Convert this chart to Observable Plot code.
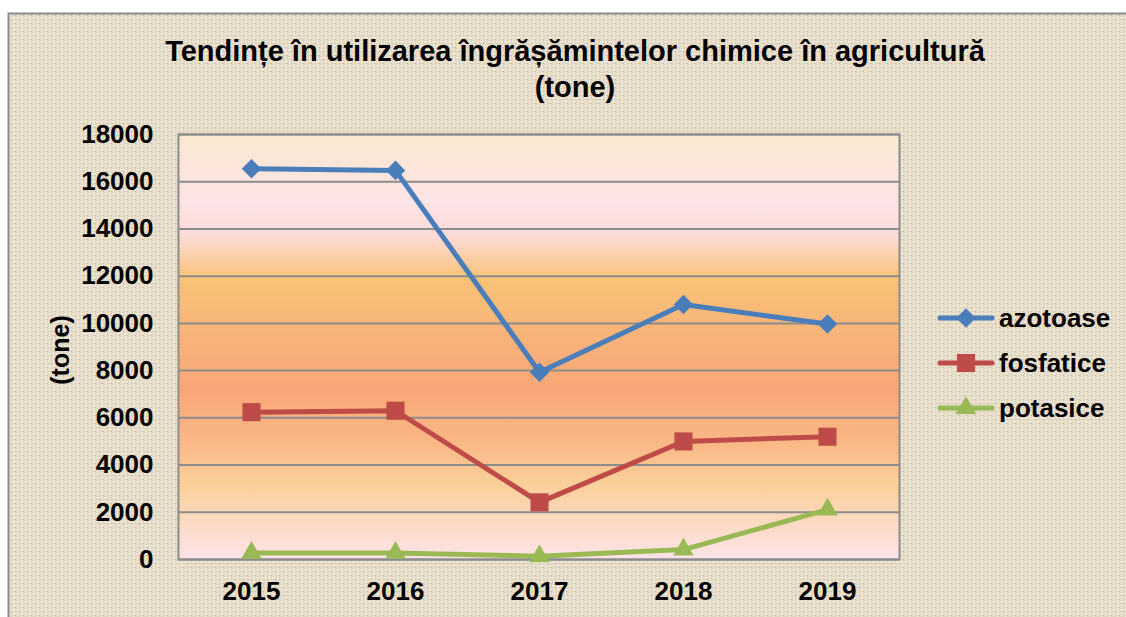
<!DOCTYPE html>
<html>
<head>
<meta charset="utf-8">
<script src="https://cdn.jsdelivr.net/npm/d3@7"></script>
<script src="https://cdn.jsdelivr.net/npm/@observablehq/plot@0.6"></script>
<style>
  html, body { margin: 0; padding: 0; background: #ffffff; }
  #chart { width: 1126px; height: 617px; }
</style>
</head>
<body>
<div id="chart"></div>
<script>
// ---- data ----
const years = ["2015", "2016", "2017", "2018", "2019"];
const azotoase = [16550, 16480, 7930, 10800, 9970];
const fosfatice = [6240, 6300, 2420, 5000, 5200];
const potasice = [280, 280, 140, 420, 2110];
const seriesNames = ["azotoase", "fosfatice", "potasice"];
const yTicks = [0, 2000, 4000, 6000, 8000, 10000, 12000, 14000, 16000, 18000];
const titleLines = ["Tendințe în utilizarea îngrășămintelor chimice în agricultură", "(tone)"];
const yLabel = "(tone)";

const colors = {azotoase: "#4a7ebb", fosfatice: "#be4b48", potasice: "#98b954"};
const symbols = {azotoase: "diamond2", fosfatice: "square", potasice: "triangle"};
const radii = {azotoase: 8.8, fosfatice: 10.2, potasice: 7.6};

const valuesBySeries = {azotoase, fosfatice, potasice};
const rows = seriesNames.flatMap(s => years.map((y, i) => ({series: s, year: y, value: valuesBySeries[s][i]})));

const FONT = "'Liberation Sans', Arial, sans-serif";

// defs: plot area gradient + burlap-like background pattern
const defsMark = () => {
  const g = d3.create("svg:g");
  const defs = g.append("defs");
  const grad = defs.append("linearGradient").attr("id", "plotGrad")
    .attr("x1", 0).attr("y1", 0).attr("x2", 0).attr("y2", 1);
  [[0, "#fae8d0"], [0.16, "#fde4e6"], [0.24, "#fddbd6"], [0.34, "#f8c275"], [0.45, "#f9b67a"],
   [0.6, "#f8a677"], [0.72, "#fab786"], [0.82, "#fbcf98"], [1, "#fde4ea"]]
    .forEach(([o, c]) => grad.append("stop").attr("offset", o).attr("stop-color", c));
  const pat = defs.append("pattern").attr("id", "burlap").attr("patternUnits", "userSpaceOnUse")
    .attr("width", 8).attr("height", 8);
  pat.append("rect").attr("width", 8).attr("height", 8).attr("fill", "#e0d5bf");
  pat.append("rect").attr("x", 0).attr("y", 1).attr("width", 4).attr("height", 1.4).attr("fill", "#f2ece0");
  pat.append("rect").attr("x", 5).attr("y", 0).attr("width", 1.4).attr("height", 4).attr("fill", "#f0e9dc");
  pat.append("rect").attr("x", 4).attr("y", 5).attr("width", 4).attr("height", 1.4).attr("fill", "#f2ece0");
  pat.append("rect").attr("x", 1).attr("y", 4).attr("width", 1.4).attr("height", 4).attr("fill", "#f0e9dc");
  pat.append("rect").attr("x", 3).attr("y", 3).attr("width", 1).attr("height", 1).attr("fill", "#c8baa0");
  pat.append("rect").attr("x", 7).attr("y", 7).attr("width", 1).attr("height", 1).attr("fill", "#c8baa0");
  g.append("rect").attr("x", 8.5).attr("y", 13.5).attr("width", 1130).attr("height", 620)
    .attr("fill", "url(#burlap)").attr("stroke", "#8a8a8a").attr("stroke-width", 2);
  return g.node();
};

const chart = Plot.plot({
  width: 1126,
  height: 617,
  marginLeft: 178,
  marginRight: 227,
  marginTop: 134,
  marginBottom: 58,
  style: {background: "transparent", fontFamily: FONT, fontSize: "26px", fontWeight: "bold", color: "#000"},
  x: {type: "point", domain: years, padding: 0.5, label: null},
  y: {domain: [0, 18000], label: null},
  symbol: {type: "identity"},
  r: {type: "identity"},
  marks: [
    defsMark,
    Plot.frame({fill: "url(#plotGrad)"}),
    Plot.gridY(yTicks, {stroke: "#8c8c8c", strokeOpacity: 1, strokeWidth: 2}),
    Plot.frame({stroke: "#8c8c8c", strokeWidth: 2}),
    Plot.axisY({ticks: yTicks, tickSize: 0, tickPadding: 25, tickFormat: d3.format("d"), label: null, fontSize: 26, fontWeight: "bold"}),
    Plot.axisX({tickSize: 0, tickPadding: 22, label: null, fontSize: 26, fontWeight: "bold"}),
    Plot.line(rows, {x: "year", y: "value", z: "series", stroke: d => colors[d.series], strokeWidth: 5, strokeLinejoin: "round", strokeLinecap: "round"}),
    Plot.dot(rows, {x: "year", y: "value", symbol: d => symbols[d.series], fill: d => colors[d.series], r: d => radii[d.series], stroke: "none"})
  ]
});

const svg = d3.select(chart);
const addText = (x, y, txt, size, anchor) => svg.append("text").attr("x", x).attr("y", y)
  .attr("text-anchor", anchor).attr("font-family", FONT).attr("font-size", size)
  .attr("font-weight", "bold").attr("fill", "#000").text(txt);
// title
addText(575, 61, titleLines[0], 29, "middle");
addText(575, 97, titleLines[1], 29, "middle");
// y label
svg.append("text").attr("transform", "translate(60,350) rotate(-90)").attr("text-anchor", "middle")
  .attr("dy", "0.35em").attr("font-family", FONT).attr("font-size", 25).attr("font-weight", "bold").text(yLabel);
// legend
const legendY = [318, 363, 408];
const symbolGen = {azotoase: d3.symbolDiamond2, fosfatice: d3.symbolSquare, potasice: d3.symbolTriangle};
seriesNames.forEach((s, i) => {
  const g = svg.append("g").attr("transform", `translate(0,${legendY[i]})`);
  g.append("line").attr("x1", 940).attr("x2", 992).attr("y1", 0).attr("y2", 0)
    .attr("stroke", colors[s]).attr("stroke-width", 5).attr("stroke-linecap", "round");
  g.append("path").attr("transform", "translate(966,0)")
    .attr("d", d3.symbol(symbolGen[s], Math.PI * radii[s] * radii[s])()).attr("fill", colors[s]);
  g.append("text").attr("x", 999).attr("y", 0).attr("dy", "0.35em").attr("text-anchor", "start")
    .attr("font-family", FONT).attr("font-size", 26).attr("font-weight", "bold").text(s);
});

document.getElementById("chart").appendChild(chart);
</script>
</body>
</html>
